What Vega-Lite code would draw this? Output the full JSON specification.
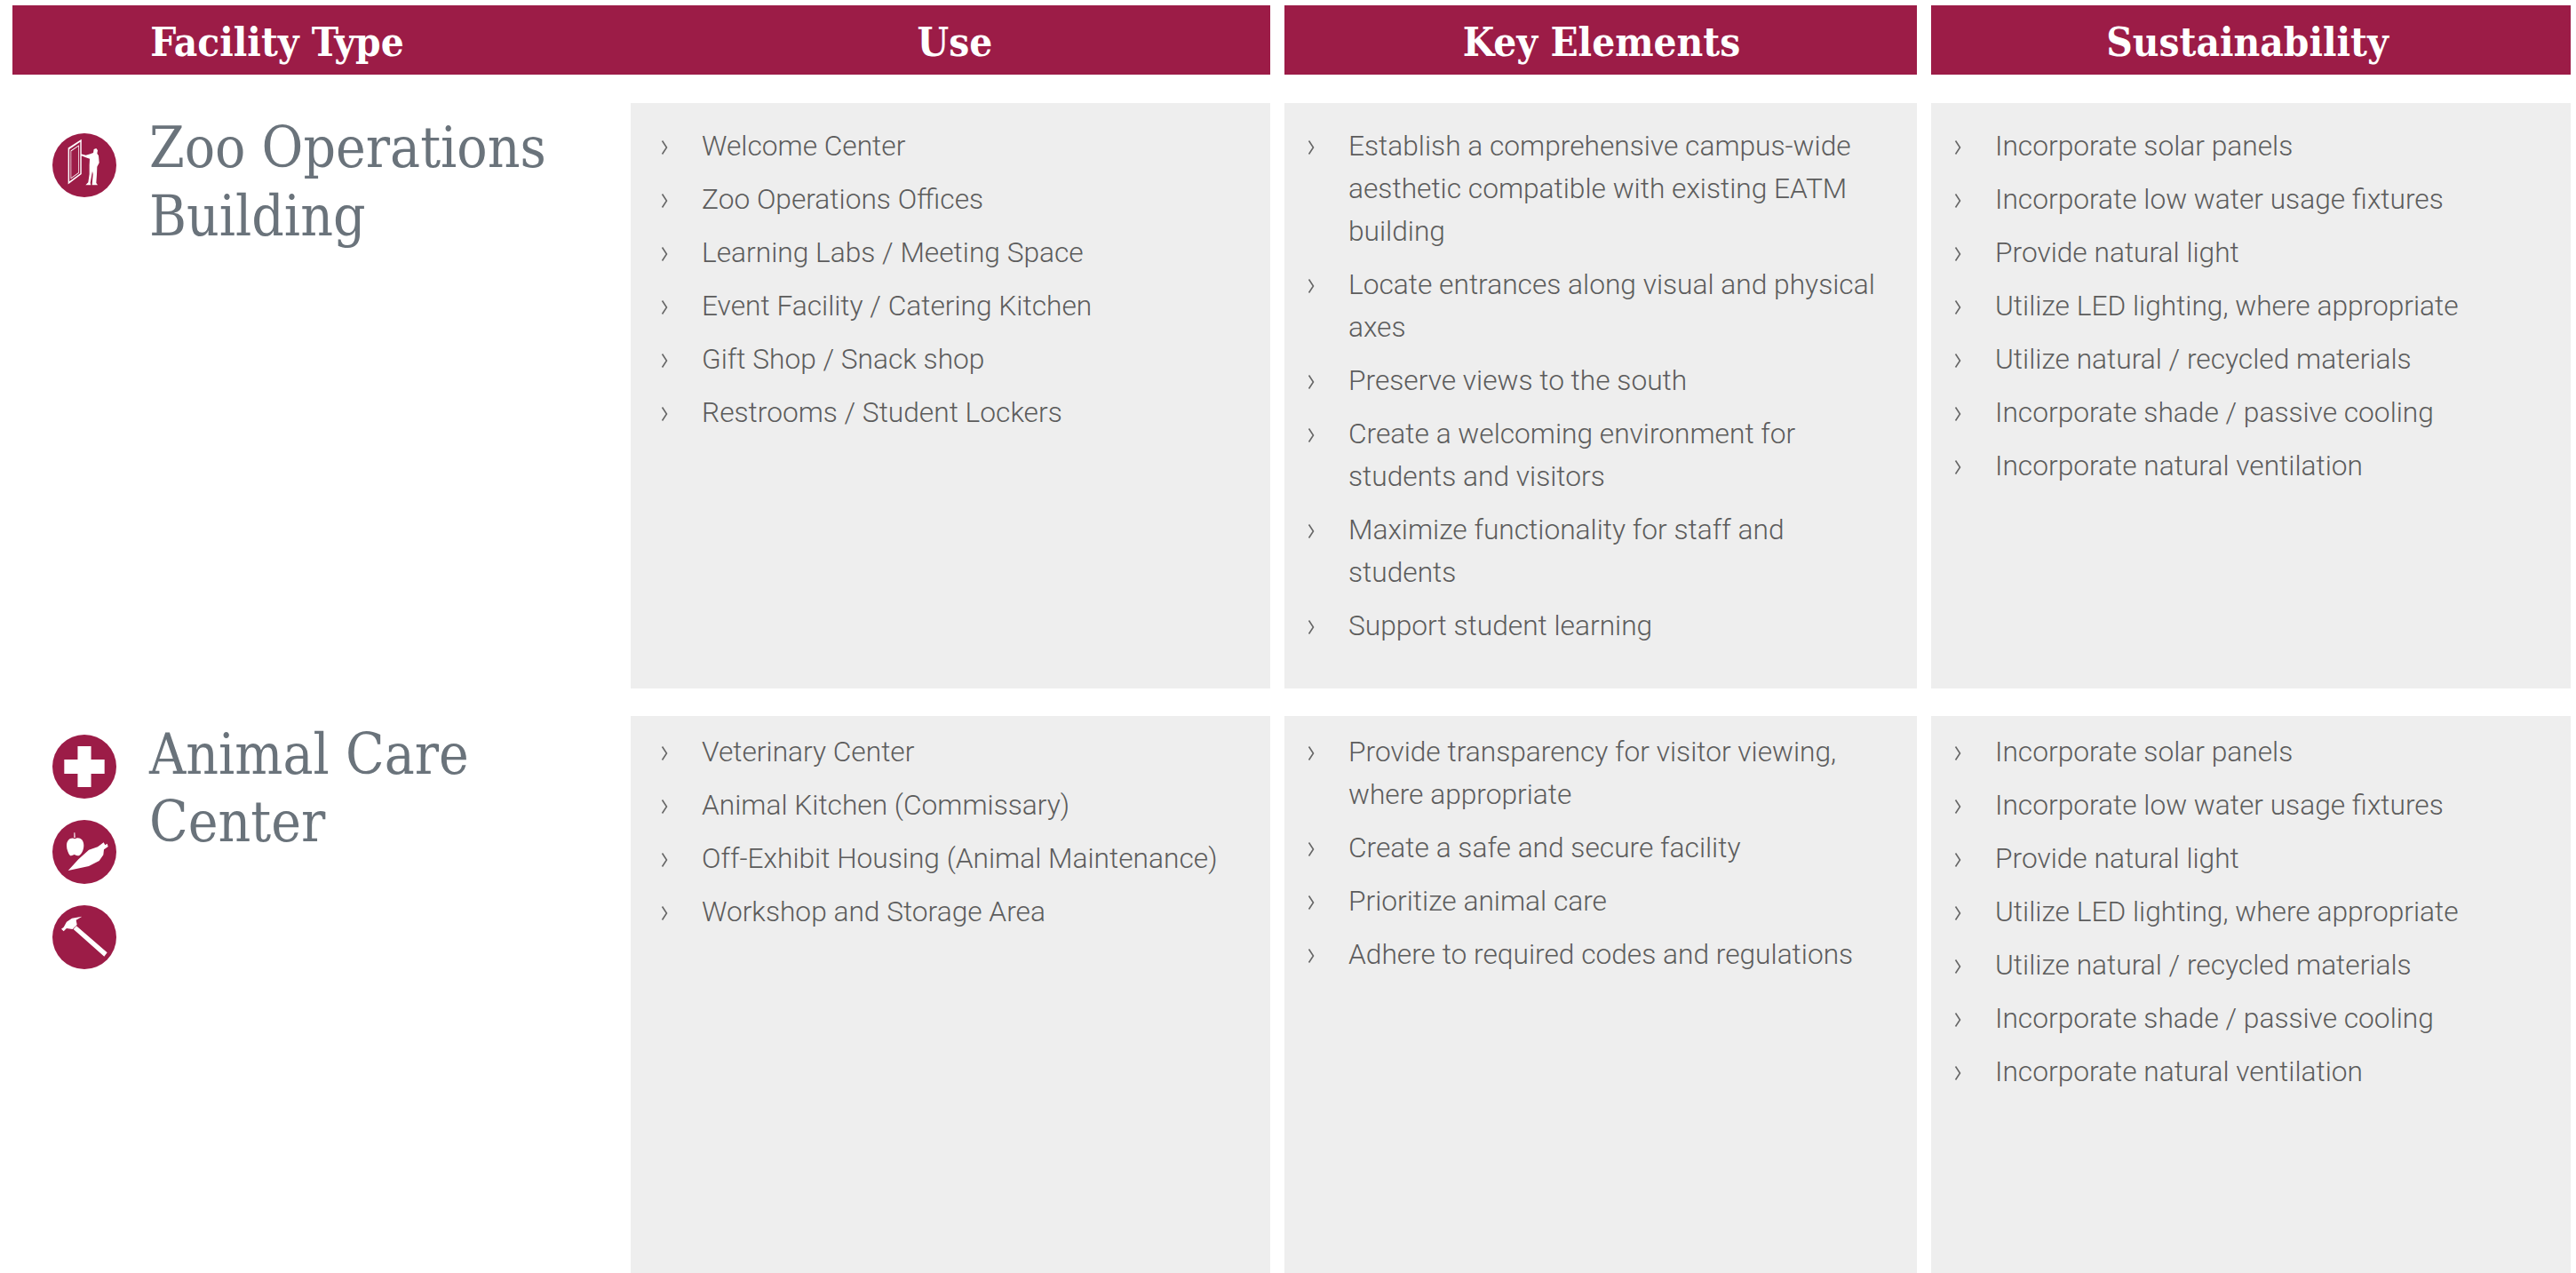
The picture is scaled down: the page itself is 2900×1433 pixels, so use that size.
{
  "$schema": "https://vega.github.io/schema/vega-lite/v6.json",
  "autosize": {"type": "fit", "contains": "padding"},
  "padding": 0,
  "width": 2900,
  "height": 1433,
  "background": "white",
  "config": {"view": {"stroke": null}},
  "datasets": {
    "bands": [
      {"part": "header", "fromEdge": 0, "toEdge": 2, "top": 0, "bottom": 1},
      {"part": "header", "fromEdge": 3, "toEdge": 4, "top": 0, "bottom": 1},
      {"part": "header", "fromEdge": 5, "toEdge": 6, "top": 0, "bottom": 1},
      {"part": "panel", "fromEdge": 1, "toEdge": 2, "top": 2, "bottom": 3},
      {"part": "panel", "fromEdge": 3, "toEdge": 4, "top": 2, "bottom": 3},
      {"part": "panel", "fromEdge": 5, "toEdge": 6, "top": 2, "bottom": 3},
      {"part": "panel", "fromEdge": 1, "toEdge": 2, "top": 4, "bottom": 5},
      {"part": "panel", "fromEdge": 3, "toEdge": 4, "top": 4, "bottom": 5},
      {"part": "panel", "fromEdge": 5, "toEdge": 6, "top": 4, "bottom": 5}
    ],
    "headers": [
      {"column": 0, "label": "Facility Type"},
      {"column": 1, "label": "Use"},
      {"column": 2, "label": "Key Elements"},
      {"column": 3, "label": "Sustainability"}
    ],
    "facilities": [
      {"line": 0, "name": "Zoo Operations"},
      {"line": 1, "name": "Building"},
      {"line": 2, "name": "Animal Care"},
      {"line": 3, "name": "Center"}
    ],
    "icons": [
      {"slot": 0, "icon": "door"},
      {"slot": 1, "icon": "cross"},
      {"slot": 2, "icon": "food"},
      {"slot": 3, "icon": "hammer"}
    ],
    "items": [
      {"column": 1, "pos": 0, "text": ["Welcome Center"]},
      {"column": 1, "pos": 5, "text": ["Zoo Operations Offices"]},
      {"column": 1, "pos": 10, "text": ["Learning Labs / Meeting Space"]},
      {"column": 1, "pos": 15, "text": ["Event Facility / Catering Kitchen"]},
      {"column": 1, "pos": 20, "text": ["Gift Shop / Snack shop"]},
      {"column": 1, "pos": 25, "text": ["Restrooms / Student Lockers"]},
      {"column": 2, "pos": 0, "text": ["Establish a comprehensive campus-wide", "aesthetic compatible with existing EATM", "building"]},
      {"column": 2, "pos": 13, "text": ["Locate entrances along visual and physical", "axes"]},
      {"column": 2, "pos": 22, "text": ["Preserve views to the south"]},
      {"column": 2, "pos": 27, "text": ["Create a welcoming environment for", "students and visitors"]},
      {"column": 2, "pos": 36, "text": ["Maximize functionality for staff and", "students"]},
      {"column": 2, "pos": 45, "text": ["Support student learning"]},
      {"column": 3, "pos": 0, "text": ["Incorporate solar panels"]},
      {"column": 3, "pos": 5, "text": ["Incorporate low water usage fixtures"]},
      {"column": 3, "pos": 10, "text": ["Provide natural light"]},
      {"column": 3, "pos": 15, "text": ["Utilize LED lighting, where appropriate"]},
      {"column": 3, "pos": 20, "text": ["Utilize natural / recycled materials"]},
      {"column": 3, "pos": 25, "text": ["Incorporate shade / passive cooling"]},
      {"column": 3, "pos": 30, "text": ["Incorporate natural ventilation"]},
      {"column": 1, "pos": 100, "text": ["Veterinary Center"]},
      {"column": 1, "pos": 105, "text": ["Animal Kitchen (Commissary)"]},
      {"column": 1, "pos": 110, "text": ["Off-Exhibit Housing (Animal Maintenance)"]},
      {"column": 1, "pos": 115, "text": ["Workshop and Storage Area"]},
      {"column": 2, "pos": 100, "text": ["Provide transparency for visitor viewing,", "where appropriate"]},
      {"column": 2, "pos": 109, "text": ["Create a safe and secure facility"]},
      {"column": 2, "pos": 114, "text": ["Prioritize animal care"]},
      {"column": 2, "pos": 119, "text": ["Adhere to required codes and regulations"]},
      {"column": 3, "pos": 100, "text": ["Incorporate solar panels"]},
      {"column": 3, "pos": 105, "text": ["Incorporate low water usage fixtures"]},
      {"column": 3, "pos": 110, "text": ["Provide natural light"]},
      {"column": 3, "pos": 115, "text": ["Utilize LED lighting, where appropriate"]},
      {"column": 3, "pos": 120, "text": ["Utilize natural / recycled materials"]},
      {"column": 3, "pos": 125, "text": ["Incorporate shade / passive cooling"]},
      {"column": 3, "pos": 130, "text": ["Incorporate natural ventilation"]}
    ]
  },
  "resolve": {"scale": {"x": "independent", "y": "independent", "shape": "independent", "color": "independent"}},
  "layer": [
    {
      "data": {"name": "bands"},
      "mark": {"type": "rect"},
      "encoding": {
        "x": {"field": "fromEdge", "type": "quantitative", "axis": null, "scale": {"domain": [0, 1, 2, 3, 4, 5, 6], "range": [14, 710, 1430, 1446, 2158, 2174, 2894]}},
        "x2": {"field": "toEdge"},
        "y": {"field": "top", "type": "quantitative", "axis": null, "scale": {"domain": [0, 1, 2, 3, 4, 5], "range": [6, 84, 116, 775, 806, 1433]}},
        "y2": {"field": "bottom"},
        "color": {"field": "part", "type": "nominal", "legend": null, "scale": {"domain": ["header", "panel"], "range": ["#9c1c47", "#eeeeee"]}}
      }
    },
    {
      "data": {"name": "headers"},
      "mark": {"type": "text", "font": "DejaVu Serif Condensed", "fontWeight": "bold", "fontSize": 45.5, "color": "white", "align": "center", "baseline": "alphabetic"},
      "encoding": {
        "x": {"field": "column", "type": "quantitative", "axis": null, "scale": {"domain": [0, 1, 2, 3], "range": [312, 1075, 1803, 2530]}},
        "y": {"datum": 0, "type": "quantitative", "axis": null, "scale": {"domain": [0, 1], "range": [63, 64]}},
        "text": {"field": "label"}
      }
    },
    {
      "data": {"name": "facilities"},
      "mark": {"type": "text", "font": "DejaVu Serif Condensed", "fontSize": 63.5, "color": "#6a737b", "align": "left", "baseline": "alphabetic"},
      "encoding": {
        "x": {"datum": 0, "type": "quantitative", "axis": null, "scale": {"domain": [0, 1], "range": [168, 169]}},
        "y": {"field": "line", "type": "quantitative", "axis": null, "scale": {"domain": [0, 1, 2, 3], "range": [188, 265, 871, 947]}},
        "text": {"field": "name"}
      }
    },
    {
      "data": {"name": "icons"},
      "mark": {"type": "point", "shape": "circle", "filled": true, "size": 5184, "color": "#9c1c47", "opacity": 1},
      "encoding": {
        "x": {"datum": 0, "type": "quantitative", "axis": null, "scale": {"domain": [0, 1], "range": [95, 96]}},
        "y": {"field": "slot", "type": "quantitative", "axis": null, "scale": {"domain": [0, 1, 2, 3], "range": [186, 863, 959, 1055]}}
      }
    },
    {
      "data": {"name": "icons"},
      "mark": {"type": "point", "filled": true, "size": 5184, "color": "white", "opacity": 1},
      "encoding": {
        "x": {"datum": 0, "type": "quantitative", "axis": null, "scale": {"domain": [0, 1], "range": [95, 96]}},
        "y": {"field": "slot", "type": "quantitative", "axis": null, "scale": {"domain": [0, 1, 2, 3], "range": [186, 863, 959, 1055]}},
        "shape": {"field": "icon", "type": "nominal", "legend": null, "scale": {
          "domain": ["door", "cross", "food", "hammer"],
          "range": [
            "M-0.51 -0.54 L-0.09 -0.81 L-0.09 0.28 L-0.51 0.6 Z M-0.47 -0.5 L-0.47 0.51 L-0.13 0.26 L-0.13 -0.73 Z M-0.43 -0.46 L-0.17 -0.63 L-0.17 0.24 L-0.43 0.43 Z M-0.41 -0.44 L-0.41 0.39 L-0.19 0.23 L-0.19 -0.59 Z M-0.111 -0.352 L0.046 -0.315 L0.185 -0.352 L0.278 -0.389 L0.296 -0.5 L0.37 -0.528 L0.417 -0.463 L0.398 -0.37 L0.444 -0.296 L0.463 -0.074 L0.398 0.046 L0.389 0.278 L0.37 0.556 L0.417 0.62 L0.24 0.62 L0.269 0.278 L0.25 0.185 L0.185 0.556 L0.204 0.62 L0.037 0.62 L0.12 0.537 L0.157 0.278 L0.157 0 L0.167 -0.204 L0.046 -0.241 L-0.111 -0.306 Z",
            "M-0.21 -0.64 L0.21 -0.64 L0.21 -0.22 L0.63 -0.22 L0.63 0.22 L0.21 0.22 L0.21 0.64 L-0.21 0.64 L-0.21 0.22 L-0.63 0.22 L-0.63 -0.22 L-0.21 -0.22 Z",
            "M-0.509 0.583 L-0.185 0.231 L0.139 -0.065 L0.417 -0.157 L0.602 -0.296 L0.648 -0.213 L0.713 -0.259 L0.741 -0.167 L0.611 -0.074 L0.593 0.093 L0.463 0.278 L0.139 0.444 Z M-0.296 -0.407 C-0.185 -0.481 -0.019 -0.407 -0.019 -0.204 C-0.019 -0.046 -0.111 0.12 -0.213 0.12 C-0.259 0.12 -0.278 0.083 -0.315 0.083 C-0.37 0.102 -0.407 0.12 -0.444 0.12 C-0.5 0.046 -0.556 -0.074 -0.556 -0.204 C-0.556 -0.389 -0.407 -0.481 -0.296 -0.407 Z M-0.324 -0.602 L-0.296 -0.602 L-0.287 -0.444 L-0.324 -0.444 Z",
            "M-0.343 -0.25 L-0.25 -0.352 L0.713 0.481 L0.62 0.602 Z M-0.722 -0.259 L-0.648 -0.315 L-0.556 -0.481 L-0.389 -0.593 L-0.074 -0.648 L-0.259 -0.537 L-0.231 -0.389 L-0.37 -0.25 L-0.556 -0.278 L-0.648 -0.185 Z"
          ]
        }}
      }
    },
    {
      "data": {"name": "items"},
      "mark": {"type": "point", "shape": "M-0.33 -1 L0.33 0 L-0.33 1", "filled": false, "size": 225, "color": "#666666", "strokeWidth": 1.6, "opacity": 1},
      "encoding": {
        "x": {"field": "column", "type": "quantitative", "axis": null, "scale": {"domain": [1, 2, 3], "range": [748, 1476, 2204]}},
        "y": {"field": "pos", "type": "quantitative", "axis": null, "scale": {"domain": [0, 60, 100, 160], "range": [166, 886, 848, 1568]}}
      }
    },
    {
      "data": {"name": "items"},
      "mark": {"type": "text", "font": "Roboto", "fontWeight": 300, "fontSize": 31.7, "lineHeight": 48, "color": "#5c5c5c", "align": "left", "baseline": "alphabetic"},
      "encoding": {
        "x": {"field": "column", "type": "quantitative", "axis": null, "scale": {"domain": [1, 2, 3], "range": [790, 1518, 2246]}},
        "y": {"field": "pos", "type": "quantitative", "axis": null, "scale": {"domain": [0, 60, 100, 160], "range": [175, 895, 857, 1577]}},
        "text": {"field": "text"}
      }
    }
  ]
}
